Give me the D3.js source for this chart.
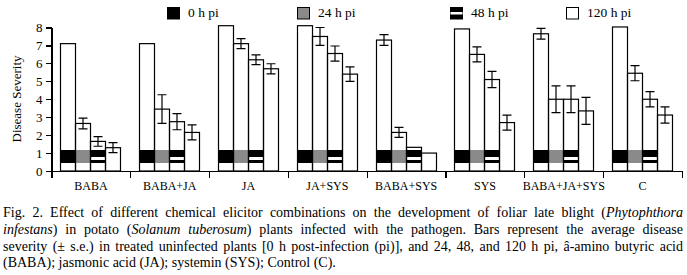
<!DOCTYPE html>
<html>
<head>
<meta charset="utf-8">
<script src="https://cdn.jsdelivr.net/npm/d3@7"></script>
<style>
  body { margin: 0; background: #fff; }
  svg text { font-family: "Liberation Serif", "Times New Roman", serif; fill: #000; }
  .axis path, .axis line { stroke: #000; shape-rendering: crispEdges; }
  .axis text { font-size: 13px; font-family: "Liberation Serif", serif; }
</style>
</head>
<body>
<div id="chart"></div>
<script>
// categories and series
const categories = ["BABA", "BABA+JA", "JA", "JA+SYS", "BABA+SYS", "SYS", "BABA+JA+SYS", "C"];
const series = ["0 h pi", "24 h pi", "48 h pi", "120 h pi"];

// mean disease severity per category
const h0 = [7.1, 7.1, 8.1, 8.1, 7.3, 7.92, 7.65, 8.03];
const h24 = [2.65, 3.45, 7.1, 7.5, 2.15, 6.5, 4.0, 5.45];
const h48 = [1.65, 2.75, 6.2, 6.55, 1.32, 5.1, 4.0, 4.0];
const h120 = [1.3, 2.15, 5.7, 5.4, 1.0, 2.7, 3.35, 3.12];

// standard errors (0 = no bar drawn)
const h0Err = [0, 0, 0, 0, 0.3, 0, 0.3, 0];
const h24Err = [0.3, 0.8, 0.28, 0.5, 0.28, 0.42, 0.75, 0.42];
const h48Err = [0.27, 0.45, 0.27, 0.42, 0, 0.45, 0.75, 0.43];
const h120Err = [0.28, 0.42, 0.28, 0.4, 0, 0.42, 0.75, 0.45];

const yTicks = [0, 1, 2, 3, 4, 5, 6, 7, 8];

const captionLines = [
	[["Fig. 2. Effect of different chemical elicitor combinations on the development of foliar late blight (", false], ["Phytophthora", true]],
	[["infestans", true], [") in potato (", false], ["Solanum tuberosum", true], [") plants infected with the pathogen. Bars represent the average disease", false]],
	[["severity (\u00b1 s.e.) in treated uninfected plants [0 h post-infection (pi)], and 24, 48, and 120 h pi, \u00e2-amino butyric acid", false]],
	[["(BABA); jasmonic acid (JA); systemin (SYS); Control (C).", false]]
];

const values = [h0, h24, h48, h120];
const errors = [h0Err, h24Err, h48Err, h120Err];
const fills = ["#000", "#8a8a8a", "#000", "#fff"];

const width = 687, height = 275;
const margin = {left: 51.5, right: 5, top: 27.5, bottom: 104};

const svg = d3.select("#chart").append("svg")
	.attr("width", width)
	.attr("height", height);

// scales
const y = d3.scaleLinear()
	.domain([0, 8])
	.range([height - margin.bottom, margin.top]);

const xPos = d3.scaleLinear()
	.domain([0, categories.length])
	.range([margin.left, 682]);

const x0 = d3.scaleBand()
	.domain(categories)
	.range([margin.left, 682]);

const barW = 15;
const x1 = d3.scaleBand()
	.domain(series)
	.range([0, barW * series.length]);
const groupOffset = (x0.bandwidth() - barW * series.length) / 2 - 0.5;

// identification band at the foot of every bar
const bandLo = 0.45, bandHi = 1.15;
const stripeLo = 0.63, stripeHi = 0.79;

// flatten to bar records
let bars = [];
categories.forEach((cat, i) => {
	series.forEach((s, j) => {
		bars.push({cat: cat, s: s, j: j, v: values[j][i], e: errors[j][i]});
	});
});

const barX = d => Math.round(x0(d.cat) + groupOffset + x1(d.s)) + 0.5;

const g = svg.append("g").attr("class", "bars");

// white body
g.selectAll(".body")
	.data(bars)
	.enter().append("rect")
	.attr("class", "body")
	.attr("x", barX)
	.attr("width", barW)
	.attr("y", d => y(d.v))
	.attr("height", d => y(0) - y(d.v))
	.attr("fill", "#fff");

// series band
g.selectAll(".band")
	.data(bars)
	.enter().append("rect")
	.attr("class", "band")
	.attr("x", barX)
	.attr("width", barW)
	.attr("y", d => y(Math.min(bandHi, d.v)))
	.attr("height", d => y(bandLo) - y(Math.min(bandHi, d.v)))
	.attr("fill", d => fills[d.j])
	.attr("shape-rendering", "crispEdges");

// white stripe for 48 h
g.selectAll(".stripe")
	.data(bars.filter(d => d.j === 2))
	.enter().append("rect")
	.attr("class", "stripe")
	.attr("x", barX)
	.attr("width", barW)
	.attr("y", y(stripeHi))
	.attr("height", y(stripeLo) - y(stripeHi))
	.attr("fill", "#fff")
	.attr("shape-rendering", "crispEdges");

// outlines
g.selectAll(".outline")
	.data(bars)
	.enter().append("rect")
	.attr("class", "outline")
	.attr("x", barX)
	.attr("width", barW)
	.attr("y", d => y(d.v))
	.attr("height", d => y(0) - y(d.v))
	.attr("fill", "none")
	.attr("stroke", "#000")
	.attr("stroke-width", 1.2);

// error bars
const errBars = bars.filter(d => d.e > 0);
const cx = d => barX(d) + barW / 2;
const cap = 4.5;
g.selectAll(".err")
	.data(errBars)
	.enter().append("path")
	.attr("class", "err")
	.attr("fill", "none")
	.attr("stroke", "#000")
	.attr("stroke-width", 1.2)
	.attr("d", d => {
		let top = y(d.v + d.e), bot = y(d.v - d.e);
		return `M${cx(d)},${top}V${bot}M${cx(d) - cap},${top}H${cx(d) + cap}M${cx(d) - cap},${bot}H${cx(d) + cap}`;
	});

// axes
const yAxis = d3.axisLeft(y)
	.tickValues(yTicks)
	.tickSize(6)
	.tickSizeOuter(0)
	.tickPadding(3)
	.tickFormat(d3.format("d"));
svg.append("g")
	.attr("class", "axis y-axis")
	.attr("transform", `translate(${margin.left},0)`)
	.call(yAxis);

const xAxis = d3.axisBottom(xPos)
	.tickValues(d3.range(categories.length + 1))
	.tickSize(7)
	.tickSizeOuter(0)
	.tickFormat("");
svg.append("g")
	.attr("class", "axis x-axis")
	.attr("transform", `translate(0,${y(0)})`)
	.call(xAxis);

svg.selectAll(".axis path, .axis line").attr("stroke-width", 1.2);

// category labels
svg.append("g")
	.selectAll("text")
	.data(categories)
	.enter().append("text")
	.attr("x", d => x0(d) + x0.bandwidth() / 2)
	.attr("y", 190)
	.attr("text-anchor", "middle")
	.attr("font-size", "12px")
	.text(d => d);

// y title
svg.append("text")
	.attr("transform", "translate(21,99) rotate(-90)")
	.attr("text-anchor", "middle")
	.attr("font-size", "13px")
	.text("Disease Severity");

// legend
const legendX = [167, 297, 450, 566];
const legend = svg.append("g").attr("class", "legend");
series.forEach((s, j) => {
	let lg = legend.append("g").attr("transform", `translate(${legendX[j]},7)`);
	lg.append("rect")
		.attr("x", 0.5).attr("y", 0.5)
		.attr("width", 12).attr("height", 11.5)
		.attr("fill", fills[j])
		.attr("stroke", "#000")
		.attr("stroke-width", 1);
	if (j === 2) {
		lg.append("rect")
			.attr("x", 0.5).attr("y", 5)
			.attr("width", 12).attr("height", 2.5)
			.attr("fill", "#fff");
	}
	lg.append("text")
		.attr("x", 21)
		.attr("y", 10)
		.attr("font-size", "13.5px")
		.text(s);
});

// caption, justified lines
const capBase = [216.5, 233.5, 250.5, 267.3];
const capWidth = 680;
captionLines.forEach((line, i) => {
	let t = svg.append("text")
		.attr("x", 3)
		.attr("y", capBase[i])
		.attr("font-size", "14px");
	line.forEach(part => {
		t.append("tspan")
			.attr("font-style", part[1] ? "italic" : "normal")
			.text(part[0]);
	});
	if (i < captionLines.length - 1) {
		let len = t.node().getComputedTextLength();
		let spaces = line.map(p => p[0]).join("").split(" ").length - 1;
		t.attr("word-spacing", (capWidth - len) / spaces);
	}
});
</script>
</body>
</html>
